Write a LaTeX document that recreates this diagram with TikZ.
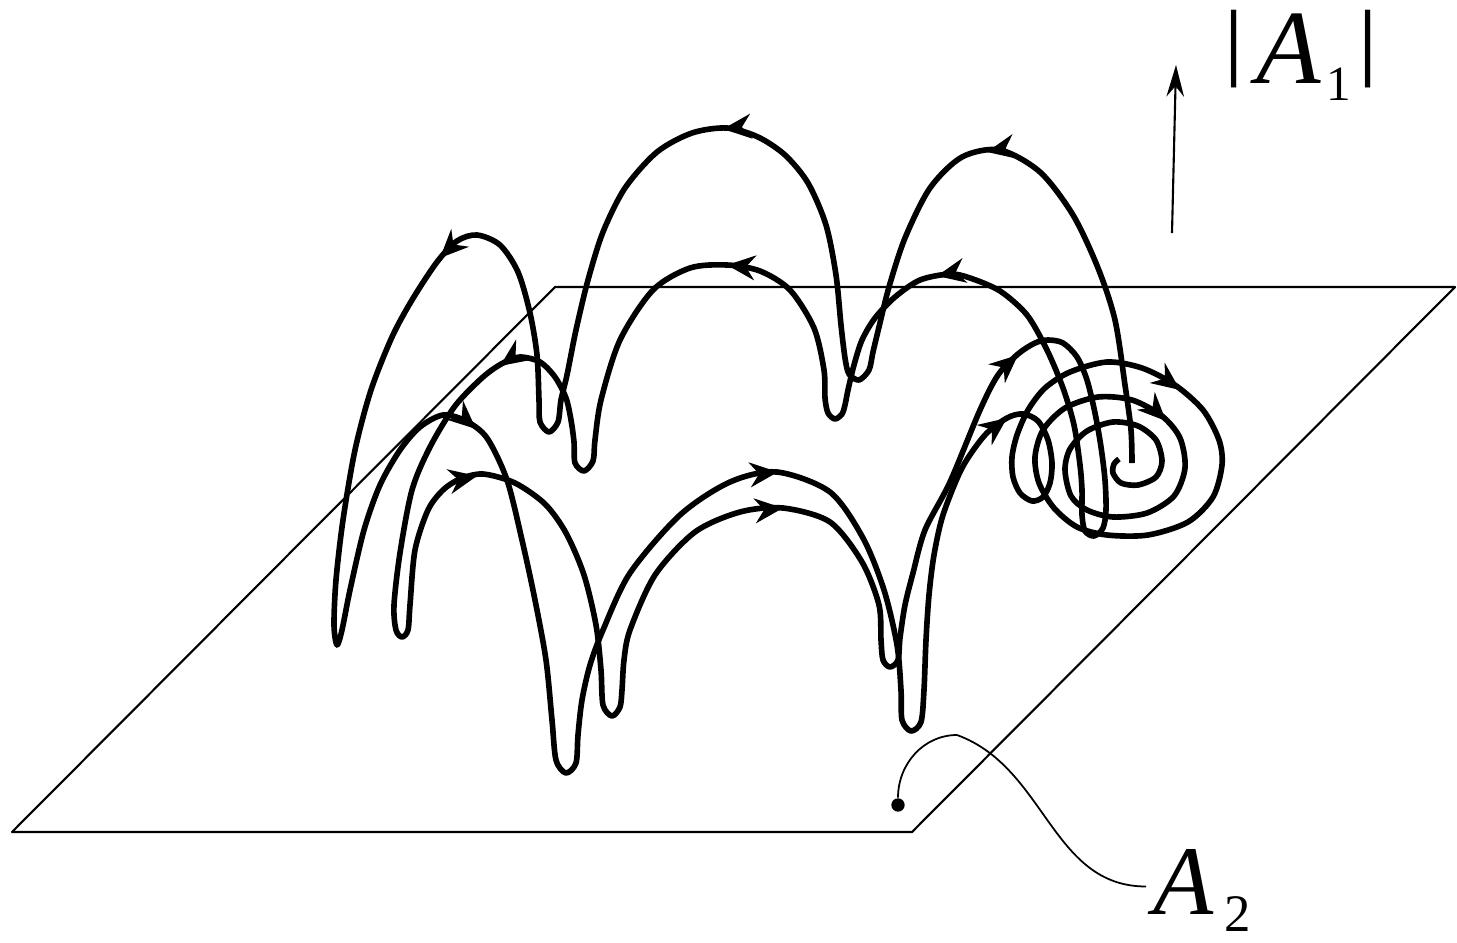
\documentclass[tikz,border=0pt]{standalone}
\usepackage{graphicx}
\usepackage{fontspec}
\setmainfont{Liberation Serif}
\usetikzlibrary{arrows.meta}

\newcommand{\barra}{\raisebox{0.13em}{\scalebox{1}[0.81]{|}}}

\begin{document}
\begin{tikzpicture}[x=0.01cm, y=-0.01cm,
    plano/.style={line width=0.6pt, line join=round},
    traj/.style={line width=1.6pt, line join=round},
    dirtip/.style={line width=1.6pt, -{Stealth[length=8pt, width=7pt, inset=2.6pt]}},
    guia/.style={line width=0.5pt},
    axe/.style={line width=0.6pt, -{Stealth[length=9pt, width=5pt, inset=3pt]}}]
    \useasboundingbox (0,0) rectangle (1457,942);

    % Plano
    \draw[plano] (12,832) -- (555,287) -- (1455,287) -- (912,832) -- cycle;

    % Trayectoria exterior (termina en la espiral)
    \draw[traj] plot[smooth] coordinates {
        (1132,463) (1131,430) (1125,385) (1115,320) (1098,268) (1073,215) (1040,172)
        (1000,150) (962,157) (930,188) (905,238) (889,287) (879,327) (873,352)
        (869,370) (859,380) (849,374) (845,358) (841,325) (836,275) (826,225)
        (808,183) (785,155) (758,137) (727,128) (692,133) (657,152) (625,188)
        (603,232) (588,280) (576,330) (567,375) (561,400) (558,422) (549,432)
        (540,422) (539,400) (537,355) (530,313) (518,272) (500,245) (477,235)
        (457,241) (437,262) (412,300) (392,337) (371,390) (355,450) (343,520)
        (336,580) (334,625) (337,645) (342,630) (350,590) (364,530) (380,485)
        (400,450) (420,427) (443,415) (466,421) (487,438) (507,480) (522,540)
        (535,600) (546,660) (552,720) (556,760) (566,773) (576,763) (578,735)
        (582,700) (590,665) (603,630) (630,573) (680,515) (730,482) (777,472)
        (830,492) (863,538) (884,590) (897,645) (901,690) (902,720) (911,731)
        (921,722) (924,690) (926,640) (929,595) (934,555) (943,515) (962,468)
        (985,435) (1007,418) (1023,414) (1038,421) (1048,440) (1052,463)
        (1050,483) (1043,497) (1032,501) (1020,493) (1013,477) (1012,457)
        (1017,435) (1028,410) (1045,388) (1070,372) (1107,362) (1142,368)
        (1175,385) (1203,410) (1219,440) (1222,465) (1213,497) (1188,522)
        (1148,535) (1107,535) (1077,527) (1054,508) (1039,483) (1035,457)
        (1043,430) (1065,408) (1098,397) (1132,400) (1162,416) (1180,438)
        (1185,468) (1174,496) (1147,513) (1113,517) (1087,510) (1071,496)
        (1065,470) (1070,449) (1087,431) (1113,422) (1138,426) (1156,440)
        (1162,461) (1156,477) (1138,485) (1121,483) (1113,473) (1114,464)
        (1119,459)};

    % Trayectoria interior (cerrada)
    \draw[traj] plot[smooth cycle] coordinates {
        (1000,291) (970,278) (950,274) (920,280) (895,297) (875,318) (862,340)
        (854,365) (848,390) (845,405) (842,414) (835,419) (828,413) (825,398)
        (824,370) (814,328) (790,290) (760,271) (727,265) (690,268) (653,290)
        (620,340) (601,400) (595,440) (593,461) (584,471) (575,463) (574,442)
        (571,420) (566,398) (555,377) (540,362) (520,357) (503,363) (483,377)
        (455,406) (430,447) (412,490) (400,553) (394,605) (396,630) (402,637)
        (408,630) (410,605) (415,550) (428,510) (443,490) (460,479) (483,474)
        (515,483) (545,504) (566,533) (584,575) (596,625) (601,670) (603,705)
        (612,716) (620,707) (622,690) (624,660) (630,630) (655,575) (695,532)
        (740,512) (783,508) (830,522) (862,562) (879,605) (881,640) (883,660)
        (890,667) (898,660) (900,638) (905,605) (913,573) (925,530) (950,482)
        (980,410) (998,375) (1018,354) (1035,343) (1048,340) (1063,343)
        (1077,357) (1087,380) (1095,413) (1101,447) (1105,480) (1106,510)
        (1103,528) (1094,536) (1085,531) (1082,515) (1082,490) (1080,465)
        (1074,425) (1063,388) (1047,350) (1027,315)};

    % Flechas de sentido
    \draw[dirtip] (449,249) -- (440,258);
    \draw[dirtip] (733,128) -- (723,129);
    \draw[dirtip] (997,150) -- (987,152);
    \draw[dirtip] (737,266) -- (727,265);
    \draw[dirtip] (947,274) -- (937,276);
    \draw[dirtip] (510,359) -- (500,366);
    \draw[dirtip] (467,421) -- (476,429);
    \draw[dirtip] (467,478) -- (477,476);
    \draw[dirtip] (768,473) -- (778,472);
    \draw[dirtip] (773,509) -- (783,508);
    \draw[dirtip] (1010,362) -- (1018,355);
    \draw[dirtip] (999,424) -- (1007,418);
    \draw[dirtip] (1172,384) -- (1180,390);
    \draw[dirtip] (1159,414) -- (1166,421);

    % Eje |A_1|
    \coordinate (axbase) at (1172,233);
    \coordinate (axtip) at (1176,65);
    \draw[axe] (axbase) -- (axtip);
    \node[anchor=base, inner sep=0pt] (absA) at (1301,83)
        {\fontsize{30}{30}\selectfont \barra\hspace{0.12cm}\textit{A}\hspace{0.05cm}\raisebox{-0.17cm}{\fontsize{14}{14}\selectfont 1}\hspace{0.06cm}\barra};

    % Punto y etiqueta A_2
    \node[circle, fill, inner sep=0pt, minimum size=3.8pt] (dot) at (898,805) {};
    \node[anchor=base west, inner sep=2pt] (A2) at (1146,914)
        {\fontsize{28}{28}\selectfont\textit{A}\hspace{0.1cm}\raisebox{-0.17cm}{\fontsize{15}{15}\selectfont 2}};
    \coordinate (hump) at (957,735);
    \draw[guia] (dot) to[out=90, in=180] (hump) to[out=-20, in=180] ([yshift=1pt]A2.west);
\end{tikzpicture}
\end{document}
